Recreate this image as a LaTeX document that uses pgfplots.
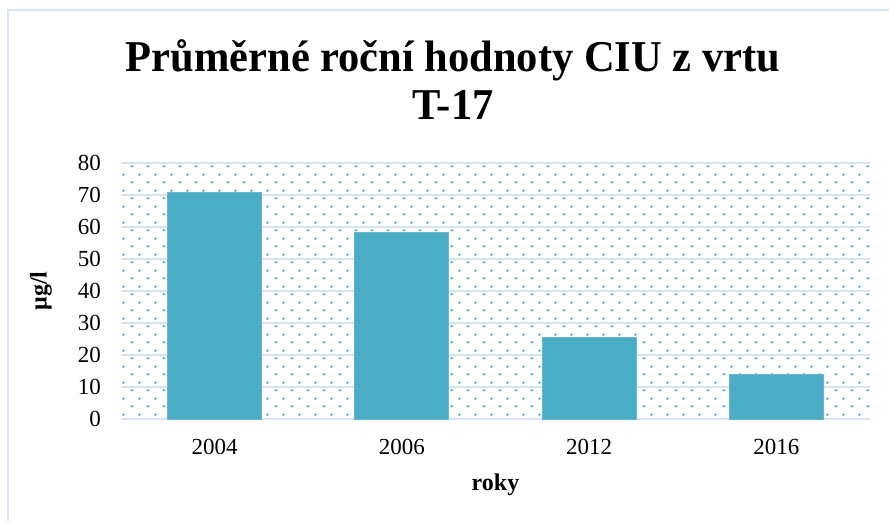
\documentclass[border=0pt]{standalone}
\usepackage{pgfplots}
\pgfplotsset{compat=1.18}
\usepackage{fontspec}
\setmainfont{Liberation Serif}
\usetikzlibrary{patterns.meta}
\definecolor{barcol}{RGB}{75,172,198}
\definecolor{gridcol}{RGB}{214,226,242}
\definecolor{framecol}{RGB}{218,227,243}
\tikzdeclarepattern{
  name=tealdots,
  type=uncolored,
  bounding box={(0pt,0pt) and (8pt,8pt)},
  tile size={(8pt,8pt)},
  code={
    \fill (2pt,2pt) circle (0.7pt);
    \fill (6pt,6pt) circle (0.7pt);
  }
}
\begin{document}
\begin{tikzpicture}[x=1pt,y=1pt]
\useasboundingbox (0,0) rectangle (444.5,260.5);
\draw[framecol, line width=1pt] (3.75,0) -- (3.75,255.25) -- (444.5,255.25);
\node[anchor=base, font=\bfseries\fontsize{22}{26}\selectfont] at (226.5,224.65) {\scalebox{0.966}[1]{Průměrné roční hodnoty CIU z vrtu}};
\node[anchor=base, font=\bfseries\fontsize{22}{26}\selectfont] at (226.5,200.85) {\scalebox{0.966}[1]{T-17}};
\node[anchor=base, font=\bfseries\fontsize{12}{14}\selectfont] at (247.75,15.5) {roky};
\node[rotate=90, font=\bfseries\fontsize{12}{14}\selectfont] at (20.5,115) {μg/l};
\begin{axis}[
  at={(60.5pt,51pt)}, anchor=south west,
  scale only axis, width=374.5pt, height=128pt,
  ymin=0, ymax=80, ytick={0,10,...,80},
  xmin=-0.5, xmax=3.5,
  xtick=data, xticklabels={2004,2006,2012,2016},
  axis line style={draw=none},
  major tick style={draw=none},
  ymajorgrids, grid style={gridcol, line width=1pt},
  axis background/.style={pattern={tealdots}, pattern color=barcol},
  /pgf/number format/assume math mode=true,
  tick label style={font=\fontsize{11.5}{14}\selectfont},
  yticklabel style={xshift=-6.5pt},
  xticklabel style={yshift=-6.5pt},
]
\addplot[ybar, bar width=47pt, fill=barcol, draw=barcol!85!white] coordinates {(0,70.8) (1,58.3) (2,25.6) (3,13.8)};
\end{axis}
\end{tikzpicture}
\end{document}
